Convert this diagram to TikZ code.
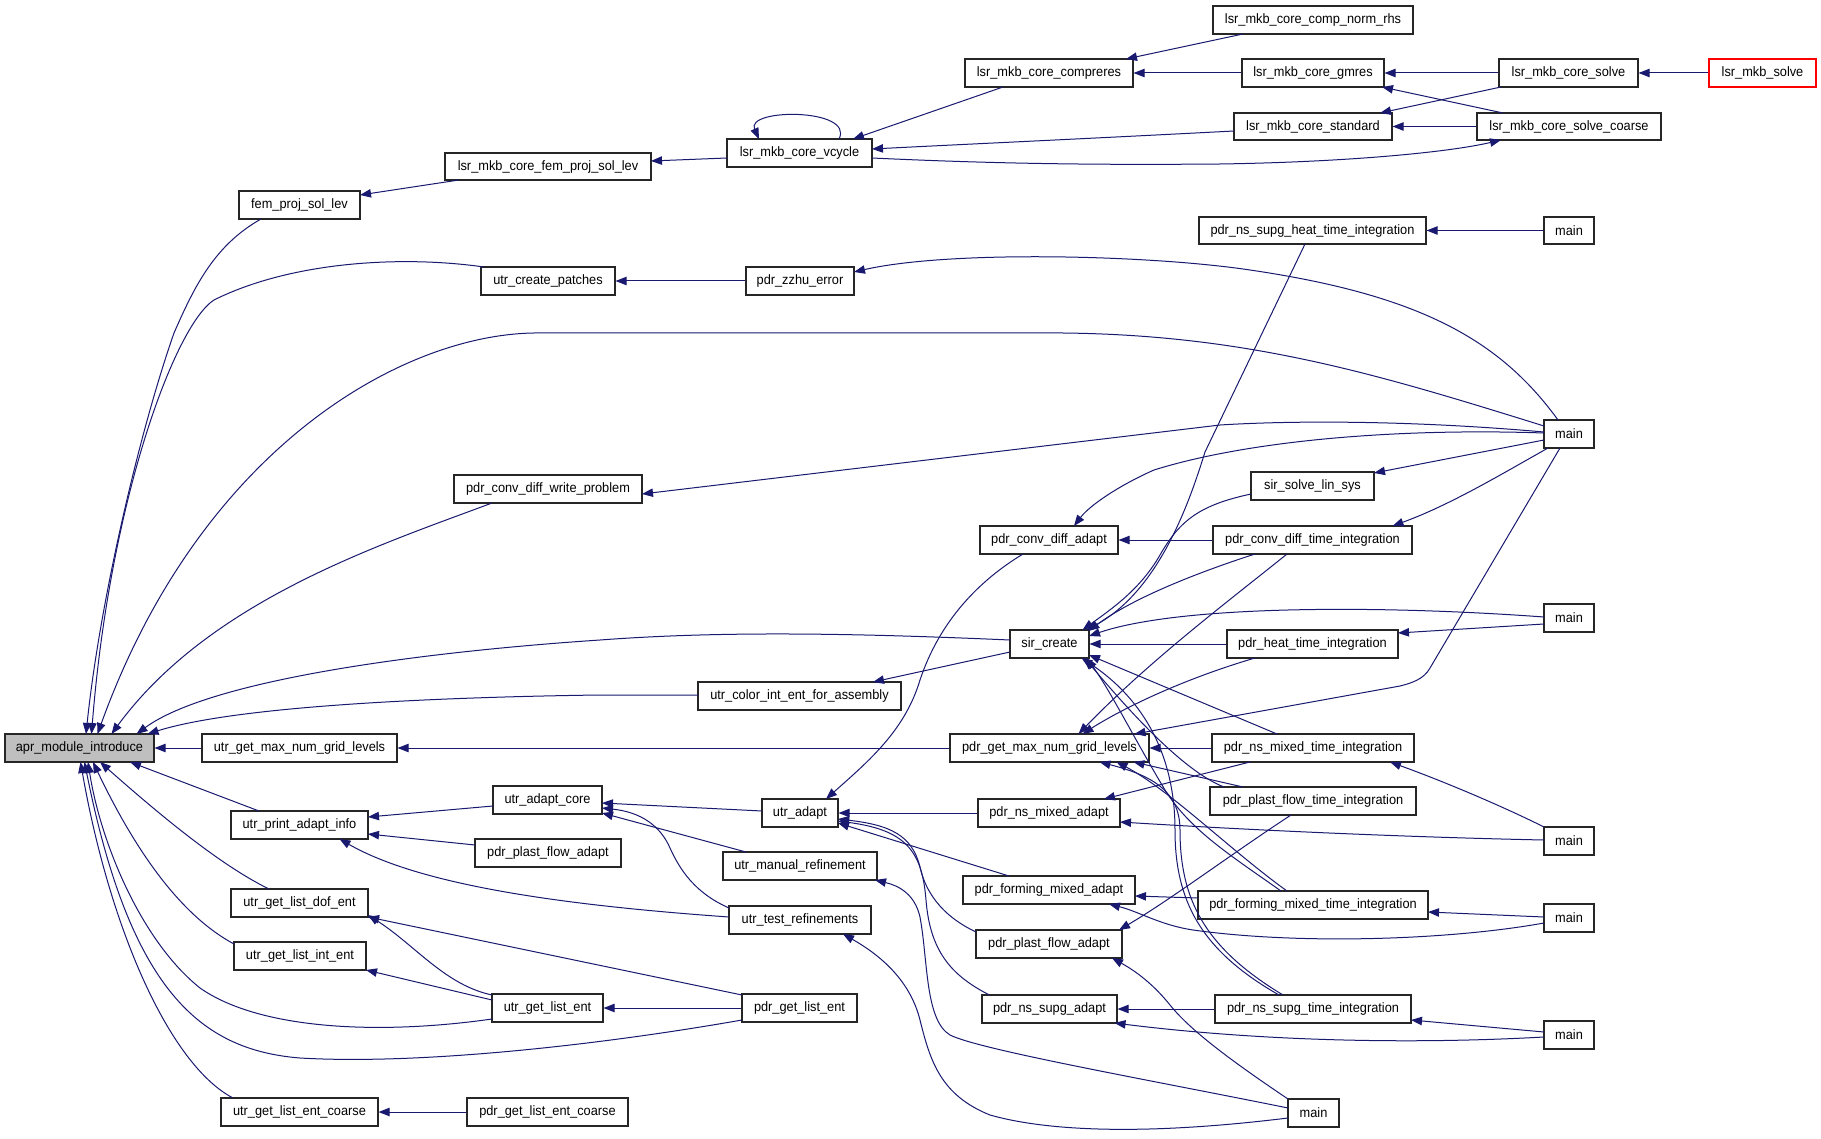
\documentclass[tikz,border=0pt]{standalone}
\usepackage{fontspec}
\setmainfont{Liberation Sans}[FakeStretch=0.94]
\usetikzlibrary{arrows.meta,calc}
\definecolor{edgec}{HTML}{191970}
\tikzset{
  nb/.style={draw=black!85, line width=0.55pt, fill=white, inner sep=0pt, font=\fontsize{6.8}{8}\selectfont, text=black},
  edge/.style={draw=edgec, line width=0.5pt, -{Triangle[length=5.5pt,width=4.2pt]}},
}
\newcommand\bx[7][]{\node[nb,#1,minimum width={(#5-#3)*0.5pt},minimum height={(#6-#4)*0.5pt}] (#2) at ({(#3+#5)/2},{(#4+#6)/2}) {#7};}
\begin{document}
\begin{tikzpicture}[x=0.5pt,y=-0.5pt]
\fill[white] (0,0) rectangle (1821,1139);
\useasboundingbox (0,0) rectangle (1821,1139);
% nodes
\bx[fill=gray!50]{apr}{5}{734}{154}{762}{apr\_module\_introduce}
\bx{fem}{239}{191}{360}{219}{fem\_proj\_sol\_lev}
\bx{lfem}{445}{153}{651}{180}{lsr\_mkb\_core\_fem\_proj\_sol\_lev}
\bx{vcyc}{727}{139}{872}{167}{lsr\_mkb\_core\_vcycle}
\bx{compr}{965}{59}{1133}{87}{lsr\_mkb\_core\_compreres}
\bx{normrhs}{1213}{6}{1413}{34}{lsr\_mkb\_core\_comp\_norm\_rhs}
\bx{gmres}{1242}{59}{1384}{87}{lsr\_mkb\_core\_gmres}
\bx{csolve}{1499}{59}{1638}{87}{lsr\_mkb\_core\_solve}
\bx[draw=red]{msolve}{1709}{59}{1816}{87}{lsr\_mkb\_solve}
\bx{std}{1234}{113}{1392}{140}{lsr\_mkb\_core\_standard}
\bx{coarse}{1477}{113}{1661}{140}{lsr\_mkb\_core\_solve\_coarse}
\bx{patches}{481}{267}{615}{295}{utr\_create\_patches}
\bx{zzhu}{746}{267}{854}{295}{pdr\_zzhu\_error}
\bx{heat}{1199}{217}{1426}{244}{pdr\_ns\_supg\_heat\_time\_integration}
\bx{m1}{1544}{217}{1594}{244}{main}
\bx{wprob}{454}{475}{642}{503}{pdr\_conv\_diff\_write\_problem}
\bx{m2}{1544}{420}{1594}{448}{main}
\bx{cdadapt}{980}{526}{1118}{554}{pdr\_conv\_diff\_adapt}
\bx{solvels}{1251}{472}{1374}{500}{sir\_solve\_lin\_sys}
\bx{cdtime}{1213}{526}{1412}{554}{pdr\_conv\_diff\_time\_integration}
\bx{sir}{1010}{630}{1089}{658}{sir\_create}
\bx{m3}{1544}{604}{1594}{632}{main}
\bx{heattime}{1227}{630}{1398}{658}{pdr\_heat\_time\_integration}
\bx{color}{698}{682}{901}{710}{utr\_color\_int\_ent\_for\_assembly}
\bx{umax}{202}{734}{397}{762}{utr\_get\_max\_num\_grid\_levels}
\bx{pmax}{950}{734}{1149}{762}{pdr\_get\_max\_num\_grid\_levels}
\bx{nmtime}{1212}{734}{1414}{762}{pdr\_ns\_mixed\_time\_integration}
\bx{pinfo}{231}{811}{368}{839}{utr\_print\_adapt\_info}
\bx{acore}{493}{786}{602}{814}{utr\_adapt\_core}
\bx{pfaL}{475}{839}{621}{867}{pdr\_plast\_flow\_adapt}
\bx{uadapt}{762}{799}{838}{827}{utr\_adapt}
\bx{nmadapt}{978}{799}{1120}{827}{pdr\_ns\_mixed\_adapt}
\bx{pftime}{1210}{787}{1416}{815}{pdr\_plast\_flow\_time\_integration}
\bx{m4}{1544}{827}{1594}{855}{main}
\bx{manref}{723}{852}{877}{880}{utr\_manual\_refinement}
\bx{fmadapt}{963}{876}{1135}{904}{pdr\_forming\_mixed\_adapt}
\bx{fmtime}{1198}{891}{1428}{919}{pdr\_forming\_mixed\_time\_integration}
\bx{m5}{1544}{904}{1594}{932}{main}
\bx{dof}{231}{889}{368}{917}{utr\_get\_list\_dof\_ent}
\bx{testref}{729}{906}{871}{934}{utr\_test\_refinements}
\bx{pfaR}{976}{930}{1122}{958}{pdr\_plast\_flow\_adapt}
\bx{intent}{234}{942}{366}{970}{utr\_get\_list\_int\_ent}
\bx{lent}{492}{994}{603}{1022}{utr\_get\_list\_ent}
\bx{plent}{742}{994}{857}{1022}{pdr\_get\_list\_ent}
\bx{nsadapt}{982}{995}{1117}{1023}{pdr\_ns\_supg\_adapt}
\bx{nstime}{1215}{995}{1411}{1023}{pdr\_ns\_supg\_time\_integration}
\bx{m6}{1544}{1021}{1594}{1049}{main}
\bx{mb}{1288}{1099}{1339}{1127}{main}
\bx{coarseE}{221}{1098}{378}{1126}{utr\_get\_list\_ent\_coarse}
\bx{pcoarse}{467}{1098}{628}{1126}{pdr\_get\_list\_ent\_coarse}
% edges into apr (top)
\draw[edge] ($(fem)+(-38.5,14)$) .. controls (215,245) and (195,285) .. (174,333) .. controls (140,430) and (100,600) .. ($(apr)+(6.5,-14)$);
\draw[edge] ($(patches)+(-64,-14)$) .. controls (400,255) and (290,262) .. (214,300) .. controls (175,325) and (110,500) .. ($(apr)+(12,-14)$);
\draw[edge] ($(m2)+(-25,-8)$) .. controls (1380,375) and (1250,335) .. (1063,333) -- (534,333) .. controls (400,335) and (200,450) .. ($(apr)+(18,-14)$);
\draw[edge] ($(wprob)+(-56,14)$) .. controls (380,545) and (210,600) .. ($(apr)+(32,-14)$);
\draw[edge] ($(sir)+(-39.5,-4)$) .. controls (850,633) and (720,631) .. (600,640) .. controls (420,652) and (210,680) .. ($(apr)+(57,-14)$);
\draw[edge] ($(color)+(-101.5,-1)$) -- (600,695) .. controls (450,697) and (240,705) .. ($(apr)+(68,-14)$);
\draw[edge] (umax.west) -- (apr.east);
% edges into apr (bottom)
\draw[edge] ($(pinfo)+(-40.5,-14)$) -- ($(apr)+(50.5,14)$);
\draw[edge] ($(dof)+(-30.5,-14)$) .. controls (220,865) and (160,815) .. ($(apr)+(20.5,14)$);
\draw[edge] ($(intent)+(-66,-12)$) .. controls (180,915) and (135,850) .. ($(apr)+(13.5,14)$);
\draw[edge] ($(lent)+(-55.5,11)$) .. controls (380,1035) and (260,1030) .. (200,988) .. controls (140,940) and (100,840) .. ($(apr)+(8.5,14)$);
\draw[edge] ($(plent)+(-57.5,12)$) .. controls (600,1045) and (420,1065) .. (300,1058) .. controls (200,1050) and (130,990) .. ($(apr)+(5,14)$);
\draw[edge] ($(coarseE)+(-66.5,-14)$) .. controls (170,1065) and (110,930) .. ($(apr)+(1,14)$);
% lsr group
\draw[edge] ($(lfem)+(-89,13.5)$) -- ($(fem)+(60.5,-10)$);
\draw[edge] ($(vcyc)+(-72.5,5)$) -- ($(lfem)+(103,-5.5)$);
\draw[edge] ($(vcyc)+(39.5,-14)$) .. controls (855,108) and (745,108) .. ($(vcyc)+(-40.5,-14)$);
\draw[edge] ($(compr)+(-46,14)$) -- ($(vcyc)+(53.5,-14)$);
\draw[edge] ($(std)+(-79,4.5)$) .. controls (1100,138) and (950,145) .. ($(vcyc)+(72.5,-4)$);
\draw[edge] ($(vcyc)+(72.5,5)$) .. controls (1000,164) and (1100,165) .. (1220,164) .. controls (1350,162) and (1450,152) .. ($(coarse)+(-68,13.5)$);
\draw[edge] ($(normrhs)+(-70,14)$) -- ($(compr)+(77,-14)$);
\draw[edge] (gmres.west) -- (compr.east);
\draw[edge] (csolve.west) -- (gmres.east);
\draw[edge] ($(coarse)+(-66,-13.5)$) -- ($(gmres)+(69,14)$);
\draw[edge] ($(csolve)+(-67.5,14)$) -- ($(std)+(67,-13.5)$);
\draw[edge] (coarse.west) -- (std.east);
\draw[edge] (msolve.west) -- (csolve.east);
% upper middle
\draw[edge] (zzhu.west) -- (patches.east);
\draw[edge] ($(m2)+(-11,-14)$) .. controls (1500,340) and (1420,295) .. (1250,270) .. controls (1150,255) and (950,250) .. ($(zzhu)+(54,-9)$);
\draw[edge] ($(m2)+(-25,-2)$) .. controls (1420,421) and (1300,420) .. (1220,425) -- ($(wprob)+(94,5)$);
\draw[edge] ($(m2)+(-25,-1)$) .. controls (1400,428) and (1250,440) .. (1154,470) .. controls (1120,485) and (1090,505) .. ($(cdadapt)+(25,-14)$);
\draw[edge] ($(m2)+(-25,6)$) -- ($(solvels)+(61.5,-13)$);
\draw[edge] ($(m2)+(-21,14)$) .. controls (1500,475) and (1450,505) .. ($(cdtime)+(80,-14)$);
\draw[edge] ($(m2)+(-9,14)$) -- (1430,668) .. controls (1424,679) and (1412,683) .. (1400,686) -- ($(pmax)+(85,-14)$);
\draw[edge] (m1.west) -- (heat.east);
\draw[edge] ($(heat)+(-7.5,13.5)$) -- (1205,452) .. controls (1190,500) and (1160,590) .. ($(sir)+(37,-14)$);
\draw[edge] ($(solvels)+(-61.5,8)$) .. controls (1200,505) and (1180,520) .. (1160,555) .. controls (1140,590) and (1110,610) .. ($(sir)+(33,-14)$);
\draw[edge] (cdtime.west) -- (cdadapt.east);
\draw[edge] ($(cdtime)+(-57.5,14)$) .. controls (1190,575) and (1130,600) .. ($(sir)+(39,-13)$);
\draw[edge] ($(cdtime)+(-25.5,14)$) .. controls (1230,600) and (1150,660) .. ($(pmax)+(29,-14)$);
\draw[edge] ($(m3)+(-25,-1)$) .. controls (1380,605) and (1180,605) .. ($(sir)+(39.5,-8)$);
\draw[edge] ($(m3)+(-25,6)$) -- ($(heattime)+(85.5,-11)$);
\draw[edge] (heattime.west) -- (sir.east);
\draw[edge] ($(heattime)+(-57.5,14)$) .. controls (1180,680) and (1120,710) .. ($(pmax)+(33,-14)$);
% lower right
\draw[edge] ($(nmtime)+(-36,-14)$) -- ($(sir)+(39.5,11)$);
\draw[edge] (nmtime.west) -- (pmax.east);
\draw[edge] ($(nmtime)+(-63,14)$) -- ($(nmadapt)+(55,-14)$);
\draw[edge] ($(m4)+(-25,-14)$) .. controls (1500,805) and (1440,780) .. ($(nmtime)+(77,14)$);
\draw[edge] ($(m4)+(-25,-1)$) .. controls (1400,837) and (1250,830) .. ($(nmadapt)+(71,9)$);
\draw[edge] ($(pftime)+(-89,-14)$) .. controls (1180,770) and (1120,700) .. ($(sir)+(35,14)$);
\draw[edge] ($(pftime)+(-70,-14)$) -- ($(pmax)+(84,14)$);
\draw[edge] ($(fmtime)+(-32,-14)$) .. controls (1230,855) and (1190,830) .. (1165,790) .. controls (1135,740) and (1110,690) .. ($(sir)+(37,14)$);
\draw[edge] ($(fmtime)+(-26,-14)$) .. controls (1230,850) and (1170,790) .. ($(pmax)+(67,14)$);
\draw[edge] ($(nstime)+(-34,-14)$) .. controls (1200,950) and (1175,900) .. (1175,830) .. controls (1175,740) and (1130,690) .. ($(sir)+(32,14)$);
\draw[edge] ($(nstime)+(-30,-14)$) .. controls (1205,948) and (1180,900) .. (1180,830) .. controls (1180,790) and (1150,775) .. ($(pmax)+(50,14)$);
\draw[edge] ($(pftime)+(-22,14)$) .. controls (1230,855) and (1170,900) .. ($(pfaR)+(70,-14)$);
\draw[edge] ($(fmtime)+(-115,-7)$) -- ($(fmadapt)+(86,6)$);
\draw[edge] ($(m5)+(-25,-1)$) -- ($(fmtime)+(115,7)$);
\draw[edge] ($(m5)+(-25,5)$) .. controls (1450,940) and (1300,945) .. (1193,930) .. controls (1160,925) and (1140,912) .. ($(fmadapt)+(60,14)$);
\draw[edge] (nstime.west) -- (nsadapt.east);
\draw[edge] ($(m6)+(-25,-3)$) -- ($(nstime)+(98,11)$);
\draw[edge] ($(m6)+(-25,2)$) .. controls (1400,1045) and (1250,1040) .. ($(nsadapt)+(65,14)$);
\draw[edge] ($(mb)+(-25.5,-14)$) .. controls (1230,1060) and (1190,1030) .. (1170,1005) .. controls (1150,980) and (1130,968) .. ($(pfaR)+(63,14)$);
\draw[edge] ($(mb)+(-25.5,-5)$) .. controls (1150,1080) and (980,1050) .. (950,1035) .. controls (925,1020) and (928,960) .. (920,917) .. controls (915,895) and (900,886) .. ($(manref)+(75,14)$);
\draw[edge] ($(mb)+(-25.5,5)$) .. controls (1150,1135) and (1050,1132) .. (990,1115) .. controls (940,1095) and (930,1060) .. (920,1020) .. controls (910,980) and (880,955) .. ($(testref)+(43,14)$);
% utr_adapt
\draw[edge] ($(cdadapt)+(-26,14)$) .. controls (980,580) and (940,620) .. (920,680) .. controls (905,730) and (870,760) .. ($(uadapt)+(26,-14)$);
\draw[edge] (nmadapt.west) -- (uadapt.east);
\draw[edge] ($(fmadapt)+(-40,-14)$) -- ($(uadapt)+(38,10)$);
\draw[edge] ($(pfaR)+(-73,-12)$) .. controls (940,915) and (925,890) .. (920,867) .. controls (912,835) and (890,825) .. ($(uadapt)+(38,6)$);
\draw[edge] ($(nsadapt)+(-60,-14)$) .. controls (950,975) and (930,950) .. (926,900) .. controls (922,850) and (905,830) .. ($(uadapt)+(38,8)$);
% left-middle group
\draw[edge] ($(uadapt)+(-38,-2)$) -- ($(acore)+(54.5,3)$);
\draw[edge] ($(manref)+(-54,-14)$) -- ($(acore)+(54.5,13)$);
\draw[edge] ($(testref)+(-71,-12)$) .. controls (695,893) and (680,870) .. (670,848) .. controls (660,825) and (640,812) .. ($(acore)+(54.5,8)$);
\draw[edge] ($(acore)+(-54.5,6)$) -- ($(pinfo)+(68.5,-8)$);
\draw[edge] ($(pfaL)+(-73,-8)$) -- ($(pinfo)+(68.5,9)$);
\draw[edge] ($(testref)+(-71,-3)$) .. controls (560,905) and (420,885) .. ($(pinfo)+(40,14)$);
\draw[edge] ($(lent)+(-55.5,-13)$) .. controls (445,985) and (415,945) .. ($(dof)+(68.5,12)$);
\draw[edge] ($(plent)+(-57.5,-13)$) -- ($(dof)+(68.5,14)$);
\draw[edge] ($(lent)+(-55.5,-8)$) -- ($(intent)+(66,14)$);
\draw[edge] (plent.west) -- (lent.east);
\draw[edge] (pcoarse.west) -- (coarseE.east);
\draw[edge] (pmax.west) -- (umax.east);
\draw[edge] ($(sir)+(-39.5,8)$) -- ($(color)+(73.5,-14)$);
\end{tikzpicture}
\end{document}
